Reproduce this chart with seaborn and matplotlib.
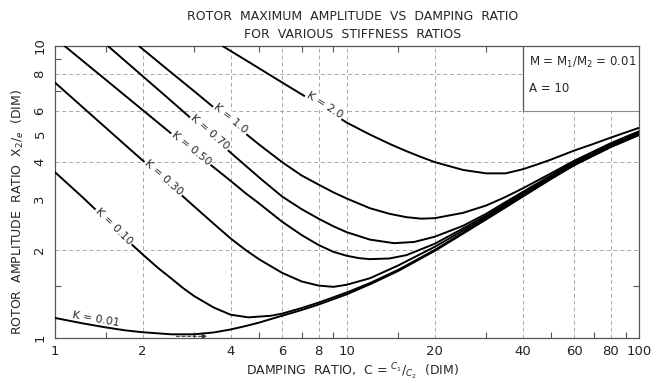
import numpy as np
import pandas as pd
import matplotlib
matplotlib.use("Agg")
import matplotlib.pyplot as plt
import seaborn as sns
from matplotlib.ticker import FixedLocator, NullFormatter

# Damping ratio C = C1/C2 and rotor amplitude ratio X2/e for each stiffness ratio K
k001_c = [1.0, 1.25, 1.5, 1.75, 2.0, 2.5, 3.0, 3.5, 4.0, 4.5, 5.0, 6.0, 7.0, 8.0, 10.0, 12.0, 15.0,
          20.0, 25.0, 30.0, 35.0, 40.0, 50.0, 60.0, 80.0, 100.0]
k001_x = [1.17, 1.12, 1.085, 1.06, 1.045, 1.028, 1.028, 1.043, 1.068, 1.097, 1.127, 1.19, 1.245, 1.30,
          1.41, 1.525, 1.695, 1.985, 2.275, 2.545, 2.80, 3.045, 3.50, 3.90, 4.50, 4.95]

k010_c = [1.0, 1.25, 1.5, 1.75, 2.0, 2.25, 2.5, 2.75, 3.0, 3.5, 4.0, 4.6, 5.5, 6.0, 7.0, 8.0, 10.0,
          12.0, 15.0, 20.0, 25.0, 30.0, 35.0, 40.0, 50.0, 60.0, 80.0, 100.0]
k010_x = [3.70, 3.02, 2.54, 2.18, 1.93, 1.74, 1.60, 1.48, 1.39, 1.27, 1.20, 1.175, 1.19, 1.21, 1.265,
          1.32, 1.43, 1.54, 1.71, 2.00, 2.29, 2.56, 2.82, 3.06, 3.51, 3.91, 4.51, 4.96]

k030_c = [1.0, 1.25, 1.5, 1.75, 2.03, 2.5, 3.0, 3.5, 4.0, 4.5, 5.0, 6.0, 7.0, 8.0, 9.0, 10.0, 12.0,
          15.0, 20.0, 25.0, 30.0, 35.0, 40.0, 50.0, 60.0, 80.0, 100.0]
k030_x = [7.50, 6.15, 5.23, 4.56, 4.00, 3.32, 2.82, 2.46, 2.19, 2.00, 1.86, 1.67, 1.56, 1.51, 1.495,
          1.52, 1.60, 1.77, 2.05, 2.33, 2.59, 2.85, 3.09, 3.54, 3.94, 4.54, 4.99]

k050_c = [1.08, 1.25, 1.5, 1.75, 2.0, 2.5, 3.0, 3.5, 4.0, 4.5, 5.0, 6.0, 7.0, 8.0, 9.0, 10.0, 11.0,
          12.0, 14.0, 16.0, 20.0, 25.0, 30.0, 35.0, 40.0, 50.0, 60.0, 80.0, 100.0]
k050_x = [10.0, 8.87, 7.64, 6.73, 6.03, 5.02, 4.33, 3.84, 3.45, 3.13, 2.89, 2.50, 2.25, 2.08, 1.97,
          1.91, 1.875, 1.86, 1.87, 1.92, 2.10, 2.37, 2.62, 2.88, 3.12, 3.57, 3.97, 4.57, 5.02]

k070_c = [1.52, 2.0, 2.5, 3.0, 3.5, 4.0, 4.5, 5.1, 6.0, 7.0, 8.0, 9.0, 10.0, 12.0, 14.5, 17.0, 20.0,
          25.0, 30.0, 35.0, 40.0, 50.0, 60.0, 80.0, 100.0]
k070_x = [10.0, 7.88, 6.49, 5.53, 4.84, 4.31, 3.89, 3.49, 3.05, 2.76, 2.56, 2.41, 2.30, 2.17, 2.11,
          2.13, 2.22, 2.42, 2.66, 2.92, 3.16, 3.60, 4.00, 4.60, 5.05]

k100_c = [1.94, 2.5, 3.0, 3.5, 4.0, 4.5, 5.0, 6.0, 7.0, 8.0, 9.0, 10.0, 12.0, 14.0, 16.0, 18.0, 20.0,
          25.0, 30.0, 35.0, 40.0, 50.0, 60.0, 80.0, 100.0]
k100_x = [10.0, 8.12, 7.00, 6.16, 5.52, 5.01, 4.60, 4.00, 3.60, 3.35, 3.15, 3.00, 2.78, 2.66, 2.59,
          2.56, 2.57, 2.68, 2.84, 3.04, 3.25, 3.66, 4.04, 4.64, 5.10]

k200_c = [3.75, 4.5, 5.0, 6.0, 7.0, 8.0, 9.0, 10.0, 12.0, 14.0, 16.0, 18.0, 20.0, 25.0, 30.0, 35.0,
          40.0, 45.0, 50.0, 60.0, 70.0, 80.0, 100.0]
k200_x = [10.0, 8.95, 8.39, 7.50, 6.83, 6.29, 5.84, 5.46, 4.97, 4.62, 4.36, 4.16, 4.00, 3.76, 3.66,
          3.66, 3.78, 3.93, 4.08, 4.38, 4.62, 4.85, 5.24]

series = [
    ("K = 0.01", k001_c, k001_x),
    ("K = 0.10", k010_c, k010_x),
    ("K = 0.30", k030_c, k030_x),
    ("K = 0.50", k050_c, k050_x),
    ("K = 0.70", k070_c, k070_x),
    ("K = 1.0", k100_c, k100_x),
    ("K = 2.0", k200_c, k200_x),
]

# Damping ratio at the centre of each curve's name, and its lift off the curve (points)
label_at = {"K = 0.01": (1.37, 5.0), "K = 0.10": (1.59, 0.0), "K = 0.30": (2.35, 1.0),
            "K = 0.50": (2.92, 1.0), "K = 0.70": (3.37, 1.0), "K = 1.0": (3.97, 1.5),
            "K = 2.0": (8.3, 2.0)}

x_ticks = [1, 2, 4, 6, 8, 10, 20, 40, 60, 80, 100]
x_minor = [1.5, 3, 5, 7, 9, 15, 30, 50, 70, 90]
y_ticks = [1, 2, 3, 4, 5, 6, 8, 10]
y_minor = [1.5, 3, 5, 7, 9]
x_grid = [2, 4, 6, 8, 10, 20, 40, 60, 80]
y_grid = [2, 4, 6, 8]

frames = [pd.DataFrame({"C": c, "X": x, "K": name}) for name, c, x in series]
data = pd.concat(frames, ignore_index=True)

sns.set_theme(style="white")
plt.rcParams["font.family"] = ["DejaVu Sans"]

fig = plt.figure(figsize=(6.6, 3.83), dpi=100)
ax = fig.add_axes([0.083, 0.118, 0.885, 0.762])

ax.set_xscale("log")
ax.set_yscale("log")
ax.set_xlim(1, 100)
ax.set_ylim(1, 10)

for gx in x_grid:
    ax.axvline(gx, color="#a8a8a8", lw=0.7, ls=(0, (4, 3)), zorder=0)
for gy in y_grid:
    ax.axhline(gy, color="#a8a8a8", lw=0.7, ls=(0, (4, 3)), zorder=0)

sns.lineplot(data=data, x="C", y="X", units="K", estimator=None, sort=False,
             color="black", lw=1.4, ax=ax, legend=False, zorder=3)

ax.xaxis.set_major_locator(FixedLocator(x_ticks))
ax.xaxis.set_minor_locator(FixedLocator(x_minor))
ax.yaxis.set_major_locator(FixedLocator(y_ticks))
ax.yaxis.set_minor_locator(FixedLocator(y_minor))
ax.set_xticklabels([str(t) for t in x_ticks])
ax.set_yticklabels([str(t) for t in y_ticks], rotation=90, va="center")
ax.xaxis.set_minor_formatter(NullFormatter())
ax.yaxis.set_minor_formatter(NullFormatter())
ax.tick_params(axis="both", which="major", length=0, labelsize=9.5, colors="#222222")
ax.tick_params(axis="x", which="major", pad=5)
ax.tick_params(axis="y", which="major", pad=6)
ax.tick_params(axis="both", which="minor", direction="in", length=4, width=0.8, color="#555555",
               top=True, right=True, bottom=True, left=True)

for s in ax.spines.values():
    s.set_color("#555555")
    s.set_linewidth(0.9)

# Parameter box in the upper right corner
ax.fill_between([40, 100], 6, 10, color="white", zorder=2)
ax.plot([40, 40], [6, 10], color="#555555", lw=0.9, zorder=2)
ax.plot([40, 100], [6, 6], color="#8a8a8a", lw=0.8, zorder=2)
ax.text(42, 8.75, r"M = M$_1$/M$_2$ = 0.01", fontsize=8.5, va="center", zorder=4)
ax.text(42, 7.15, "A = 10", fontsize=8.5, va="center", zorder=4)

# Small dashed pointer along the bottom edge
ax.annotate("", xy=(3.4, 1.012), xytext=(2.55, 1.012),
            arrowprops=dict(arrowstyle="-|>", ls=(0, (3, 2)), lw=0.8, color="#333333",
                            mutation_scale=7), zorder=4)

fig.canvas.draw()
for name, c, x in series:
    lc = np.log10(c)
    lx = np.log10(x)
    xc, lift = label_at[name]
    yc = 10 ** np.interp(np.log10(xc), lc, lx)
    x0, x1 = xc / 1.08, xc * 1.08
    y0 = 10 ** np.interp(np.log10(x0), lc, lx)
    y1 = 10 ** np.interp(np.log10(x1), lc, lx)
    p0 = ax.transData.transform((x0, y0))
    p1 = ax.transData.transform((x1, y1))
    ang = np.degrees(np.arctan2(p1[1] - p0[1], p1[0] - p0[0]))
    nx, ny = -np.sin(np.radians(ang)), np.cos(np.radians(ang))
    ax.annotate(name, (xc, yc), xytext=(nx * lift, ny * lift), textcoords="offset points",
                rotation=ang, rotation_mode="anchor", ha="center", va="center",
                fontsize=7.8, zorder=5,
                bbox=None if name == "K = 0.01" else
                dict(boxstyle="square,pad=0.12", fc="white", ec="none"))

ax.set_xlabel(r"DAMPING  RATIO,  C = $^{C_1}/_{C_2}$  (DIM)", fontsize=9)
ax.xaxis.set_label_coords(0.51, -0.082)
ax.set_ylabel(r"ROTOR  AMPLITUDE  RATIO  X$_2$/$_e$  (DIM)", fontsize=9)
ax.yaxis.set_label_coords(-0.05, 0.43)
fig.text(0.535, 0.956, "ROTOR  MAXIMUM  AMPLITUDE  VS  DAMPING  RATIO", ha="center", va="center", fontsize=9)
fig.text(0.535, 0.911, "FOR  VARIOUS  STIFFNESS  RATIOS", ha="center", va="center", fontsize=9)

fig.savefig("out.png", dpi=100)
